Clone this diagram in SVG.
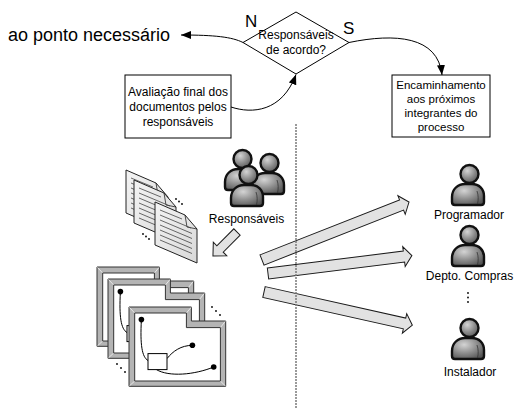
<svg xmlns="http://www.w3.org/2000/svg" xmlns:xlink="http://www.w3.org/1999/xlink" width="514" height="409" viewBox="0 0 514 409">
  <style>
    text { font-family: "Liberation Sans", Arial, sans-serif; fill: #000; }
    .lbl { font-size: 12px; text-anchor: middle; }
    .big { font-size: 18px; }
    .box { fill: #fff; stroke: #000; stroke-width: 1; }
    .flow { fill: none; stroke: #000; stroke-width: 1; marker-end: url(#head); }
    .blk { fill: #e2e2e2; stroke: #1a1a1a; stroke-width: 1; stroke-linejoin: miter; }
    .frame { fill: #b4b4b4; stroke: #333; stroke-width: 1; }
    .pane { fill: #fff; stroke: #333; stroke-width: 1; }
    .bevel { stroke: #e6e6e6; stroke-width: 1; }
    .wire { fill: none; stroke: #000; stroke-width: 1; }
    .page { fill: url(#paper); stroke: #222; stroke-width: 1; stroke-linejoin: round; }
    .ruled { stroke: #444; stroke-width: 0.8; }
    .skin { fill: url(#shade); stroke: #111; stroke-width: 2.4; }
  </style>
  <defs>
    <marker id="head" markerUnits="userSpaceOnUse" markerWidth="10" markerHeight="8" refX="10" refY="4" orient="auto">
      <path d="M0,0 L10,4 L0,8 Z" fill="#000"/>
    </marker>
    <radialGradient id="shade" cx="0.38" cy="0.32" r="0.75">
      <stop offset="0" stop-color="#d4d4d4"/>
      <stop offset="0.55" stop-color="#8c8c8c"/>
      <stop offset="1" stop-color="#555"/>
    </radialGradient>
    <linearGradient id="paper" x1="0" y1="0" x2="1" y2="1">
      <stop offset="0" stop-color="#f4f4f4"/>
      <stop offset="1" stop-color="#d8d8d8"/>
    </linearGradient>
    <!-- user silhouette: origin = body centre x, top of head -->
    <g id="person">
      <path class="skin" d="M-13,41 Q-16,41 -16,38 L-16,33 C-16,25 -10,20 -3,20 L4,20 C11,20 16,25 16,32 L16,38 Q16,41 13,41 Z"/>
      <path d="M9,27 C10.5,31 10.5,36 9.5,40" fill="none" stroke="#333" stroke-width="0.8"/>
      <circle class="skin" cx="1.5" cy="10" r="9"/>
    </g>
    <!-- sheet of paper seen at an angle -->
    <g id="sheet">
      <path class="page" d="M0,0 L30,13 L42,27 L42,61 L0,43 Z"/>
      <path d="M30,13 L32,25 L42,27" fill="none" stroke="#222" stroke-width="0.8"/>
      <g class="ruled">
        <line x1="5" y1="8" x2="27" y2="17"/>
        <line x1="5" y1="13" x2="36" y2="26"/>
        <line x1="5" y1="18" x2="37" y2="31.5"/>
        <line x1="5" y1="23" x2="37" y2="36.5"/>
        <line x1="5" y1="28" x2="37" y2="41.5"/>
        <line x1="5" y1="33" x2="37" y2="46.5"/>
        <line x1="5" y1="38" x2="37" y2="51.5"/>
      </g>
    </g>
    <!-- diagram window with stepped top edge -->
    <g id="win">
      <path class="frame" d="M0,0 H62.4 V14 H96.7 V79.3 H0 Z"/>
      <g class="bevel">
        <line x1="0.5" y1="0.5" x2="5.7" y2="6"/>
        <line x1="62" y1="0.5" x2="57.4" y2="6"/>
        <line x1="96.2" y1="14.5" x2="91.4" y2="20.6"/>
        <line x1="96.2" y1="78.8" x2="91.4" y2="74"/>
        <line x1="0.5" y1="78.8" x2="5.7" y2="74"/>
      </g>
      <path class="pane" d="M5.7,6 H57.4 V20.6 H91.4 V74 H5.7 Z"/>
    </g>
    <g id="wiring">
      <path class="wire" d="M12.4,12.6 C11,38 13,50 19,53.5"/>
      <path class="wire" d="M38,51.6 C44,44 52,38.5 63.4,38.3"/>
      <path class="wire" d="M27.4,62.6 C40,70 65,68 84.7,60"/>
      <rect x="19" y="46.6" width="19" height="16" fill="#fff" stroke="#000" stroke-width="1"/>
      <circle cx="12.4" cy="12.6" r="2.8"/>
      <circle cx="63.4" cy="38.3" r="2.8"/>
      <circle cx="84.7" cy="60" r="2.8"/>
    </g>
  </defs>

  <!-- decision -->
  <g id="decision">
    <path class="box" d="M296,12 L349,42.5 L296,74 L243,42.5 Z"/>
    <text class="lbl" x="296" y="39">Responsáveis</text>
    <text class="lbl" x="296" y="54">de acordo?</text>
  </g>
  <g id="label-n"><text class="big" x="245" y="27" style="font-size:17px">N</text></g>
  <g id="label-s"><text class="big" x="343" y="34" style="font-size:17px">S</text></g>

  <g id="back-to-point">
    <text class="big" x="8" y="41">ao ponto necessário</text>
  </g>

  <g id="evaluation">
    <rect class="box" x="125" y="75" width="106" height="63"/>
    <text class="lbl" x="178" y="95.5">Avaliação final dos</text>
    <text class="lbl" x="178" y="110.5">documentos pelos</text>
    <text class="lbl" x="178" y="125.5">responsáveis</text>
  </g>

  <g id="forwarding">
    <rect class="box" x="392" y="75" width="98" height="62"/>
    <text class="lbl" x="441" y="89" style="font-size:11.5px">Encaminhamento</text>
    <text class="lbl" x="441" y="103" style="font-size:11.5px">aos próximos</text>
    <text class="lbl" x="441" y="117" style="font-size:11.5px">integrantes do</text>
    <text class="lbl" x="441" y="131" style="font-size:11.5px">processo</text>
  </g>

  <!-- stack of documents -->
  <g id="documents">
    <use xlink:href="#sheet" transform="translate(126,170)"/>
    <use xlink:href="#sheet" transform="translate(134,180)"/>
    <use xlink:href="#sheet" transform="translate(155,202)"/>
    <g fill="#000">
      <circle cx="176" cy="199" r="0.9"/>
      <circle cx="179" cy="201.5" r="0.9"/>
      <circle cx="182" cy="204" r="0.9"/>
      <circle cx="143" cy="234" r="0.9"/>
      <circle cx="146" cy="236.5" r="0.9"/>
      <circle cx="149" cy="239" r="0.9"/>
    </g>
  </g>

  <!-- stack of diagram windows -->
  <g id="diagrams">
    <use xlink:href="#win" transform="translate(97,267)"/>
    <use xlink:href="#win" transform="translate(108,279)"/>
    <use xlink:href="#wiring" transform="translate(108,279)"/>
    <use xlink:href="#win" transform="translate(129,307)"/>
    <use xlink:href="#wiring" transform="translate(129,307)"/>
    <g fill="#000">
      <circle cx="212" cy="307" r="0.9"/>
      <circle cx="216" cy="311" r="0.9"/>
      <circle cx="220" cy="315" r="0.9"/>
      <circle cx="117" cy="364" r="0.9"/>
      <circle cx="121" cy="368" r="0.9"/>
      <circle cx="125" cy="372" r="0.9"/>
    </g>
  </g>

  <g id="reviewers">
    <use xlink:href="#person" transform="translate(241,149)"/>
    <use xlink:href="#person" transform="translate(268,153)"/>
    <use xlink:href="#person" transform="translate(247,165)"/>
    <text class="lbl" x="246.5" y="223">Responsáveis</text>
  </g>

  <g id="programmer">
    <use xlink:href="#person" transform="translate(468,164)"/>
    <text class="lbl" x="469" y="219">Programador</text>
  </g>
  <g id="purchasing">
    <use xlink:href="#person" transform="translate(468,225)"/>
    <text class="lbl" x="469.5" y="280">Depto. Compras</text>
    <g fill="#000">
      <circle cx="468" cy="293" r="0.9"/>
      <circle cx="468" cy="297.5" r="0.9"/>
      <circle cx="468" cy="302" r="0.9"/>
    </g>
  </g>
  <g id="installer">
    <use xlink:href="#person" transform="translate(468,318)"/>
    <text class="lbl" x="470" y="376">Instalador</text>
  </g>

  <g id="connectors">
    <path class="flow" d="M243,42.5 C232,37 215,35 181,35"/>
    <path class="flow" d="M349,42.5 C395,33 438,36 442,75"/>
    <path class="flow" d="M231,107 C252,114 282,112 296,74.5"/>
    <!-- block arrows -->
    <path class="blk" transform="translate(237,232) rotate(135)" d="M0,-4.5 L24,-4.5 L24,-9.5 L34,0 L24,9.5 L24,4.5 L0,4.5 Z"/>
    <path class="blk" transform="translate(262,260) rotate(-21.5)" d="M0,-5.5 L150,-5.5 L150,-10 L158,0 L150,10 L150,5.5 L0,5.5 Z"/>
    <path class="blk" transform="translate(268,273.5) rotate(-7.1)" d="M0,-5.5 L137,-5.5 L137,-10 L145,0 L137,10 L137,5.5 L0,5.5 Z"/>
    <path class="blk" transform="translate(264,292) rotate(12.6)" d="M0,-5.5 L144,-5.5 L144,-10 L152,0 L144,10 L144,5.5 L0,5.5 Z"/>
  </g>

  <!-- swimlane divider -->
  <line x1="296" y1="124" x2="296" y2="409" stroke="#7a7a7a" stroke-width="1.5" stroke-dasharray="2 1"/>
</svg>
